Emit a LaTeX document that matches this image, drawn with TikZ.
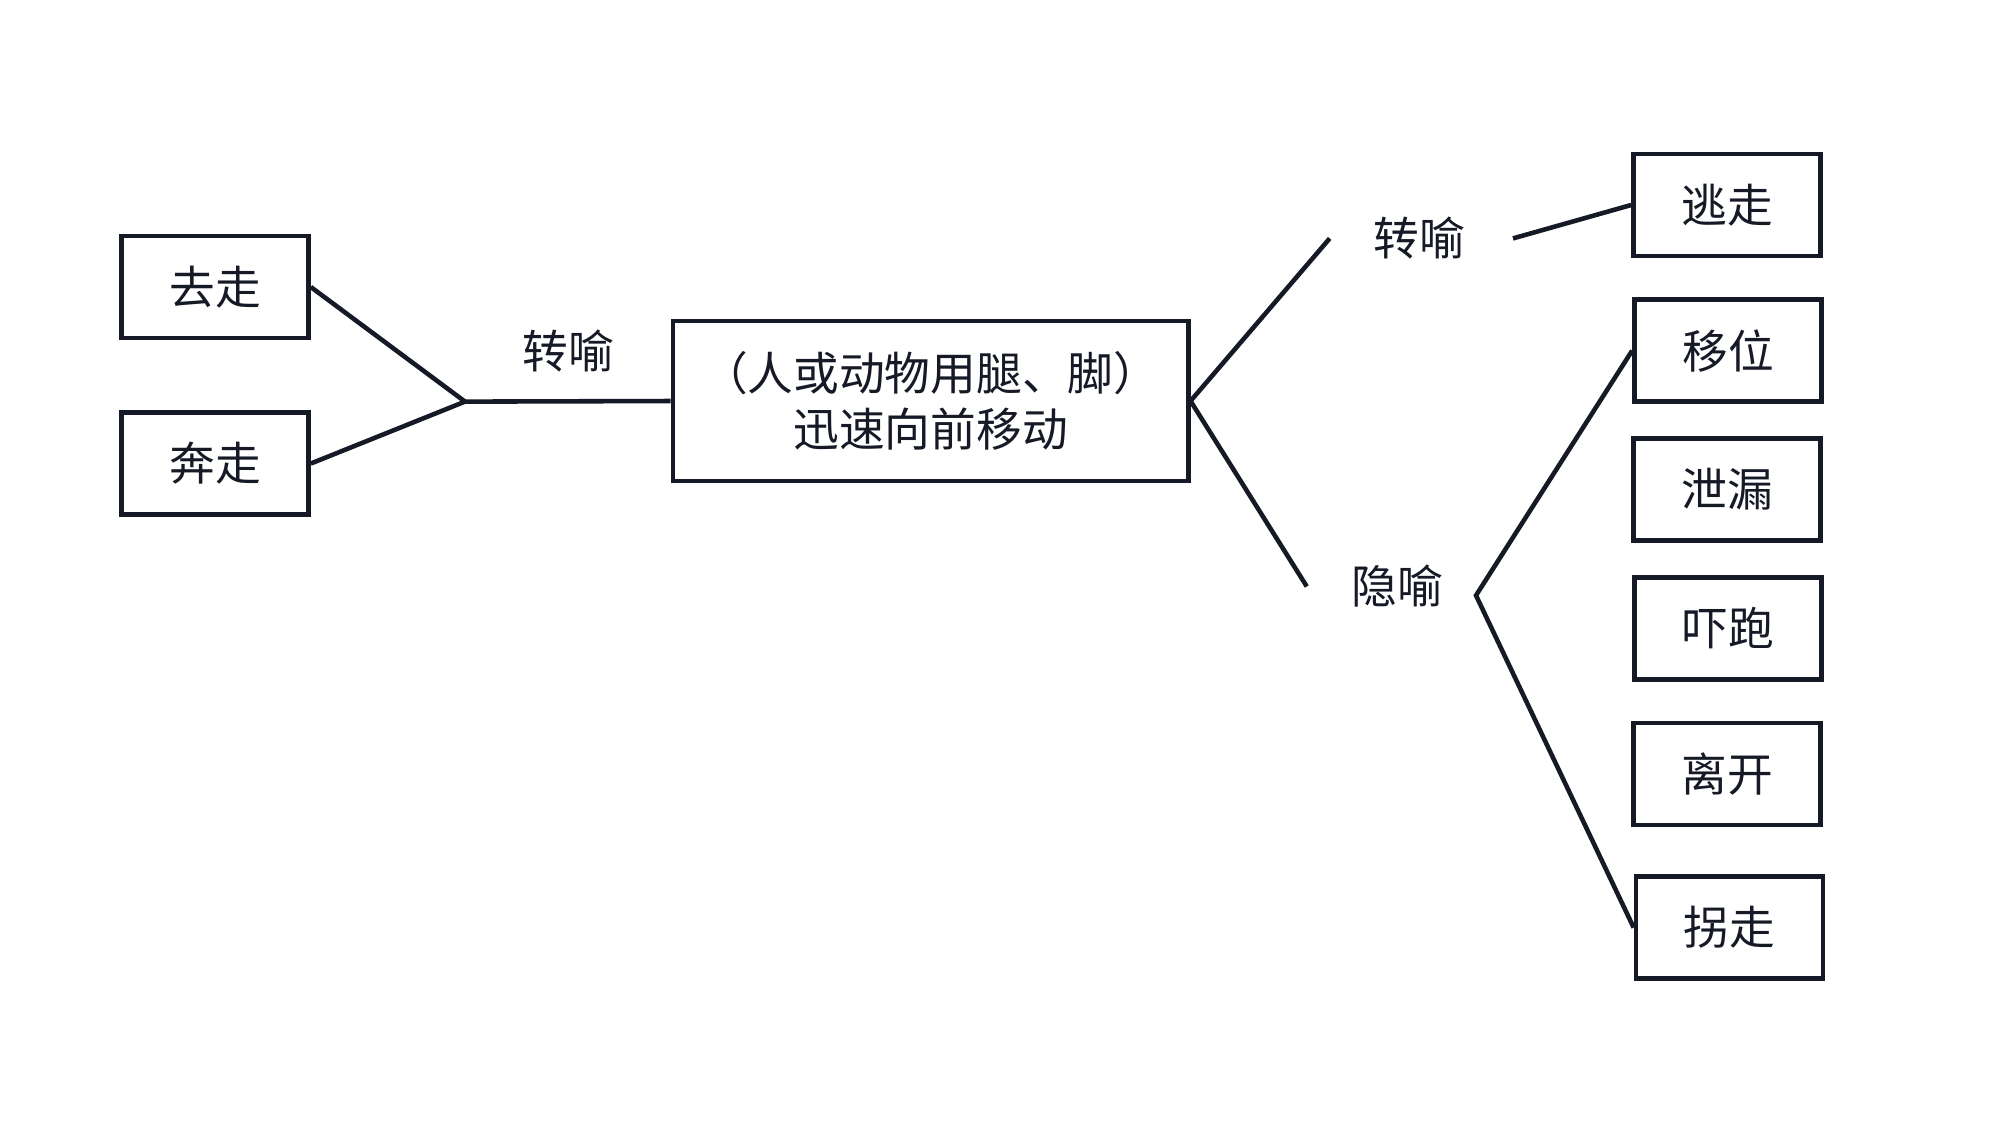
\documentclass[tikz,border=0pt]{standalone}
\usepackage{fontspec}
\newfontfamily\cjk{Noto Sans CJK SC}
\definecolor{ink}{RGB}{22,26,38}
\begin{document}
\begin{tikzpicture}[x=0.01cm,y=-0.01cm,
  txt/.style={font=\cjk\fontsize{13}{16}\selectfont,text=ink},
  box/.style={txt,draw=ink,line width=1.3pt,minimum width=1.87cm,minimum height=1.02cm,inner sep=0pt},
  lbl/.style={txt,inner sep=0pt},
  conn/.style={draw=ink,line width=1.3pt}]
\useasboundingbox[fill=white] (0,0) rectangle (1999,1129);
% left side
\node[box] (quzou) at (215,287) {去走};
\node[box] (benzou) at (215,463.5) {奔走};
\coordinate (jl) at (465,401.6);
\node[box,minimum width=5.15cm,minimum height=1.6cm,align=center] (center) at (930.6,401) {（人或动物用腿、脚）\\迅速向前移动};
\node[lbl] (zyleft) at (568.6,350.6) {转喻};
\draw[conn] (quzou.east) -- (jl) -- (benzou.east);
\draw[conn] (jl) -- (center.west);
% right side
\node[box] (taozou) at (1727,205) {逃走};
\node[box] (yiwei) at (1728,350.6) {移位};
\node[box] (xielou) at (1727,489.6) {泄漏};
\node[box] (xiapao) at (1728,628.5) {吓跑};
\node[box] (likai) at (1727,774) {离开};
\node[box] (guaizou) at (1729.5,927.6) {拐走};
\node[lbl] (zyright) at (1419,238.4) {转喻};
\node[lbl] (yinyu) at (1397,586.5) {隐喻};
\coordinate (a1) at (1329.7,238.4);
\coordinate (a2) at (1513,238.4);
\coordinate (b1) at (1306.8,586.5);
\coordinate (jr) at (1476,595.4);
\draw[conn] (center.east) -- (a1);
\draw[conn] (a2) -- (taozou.west);
\draw[conn] (center.east) -- (b1);
\draw[conn] (yiwei.west) -- (jr) -- (guaizou.west);
\end{tikzpicture}
\end{document}
